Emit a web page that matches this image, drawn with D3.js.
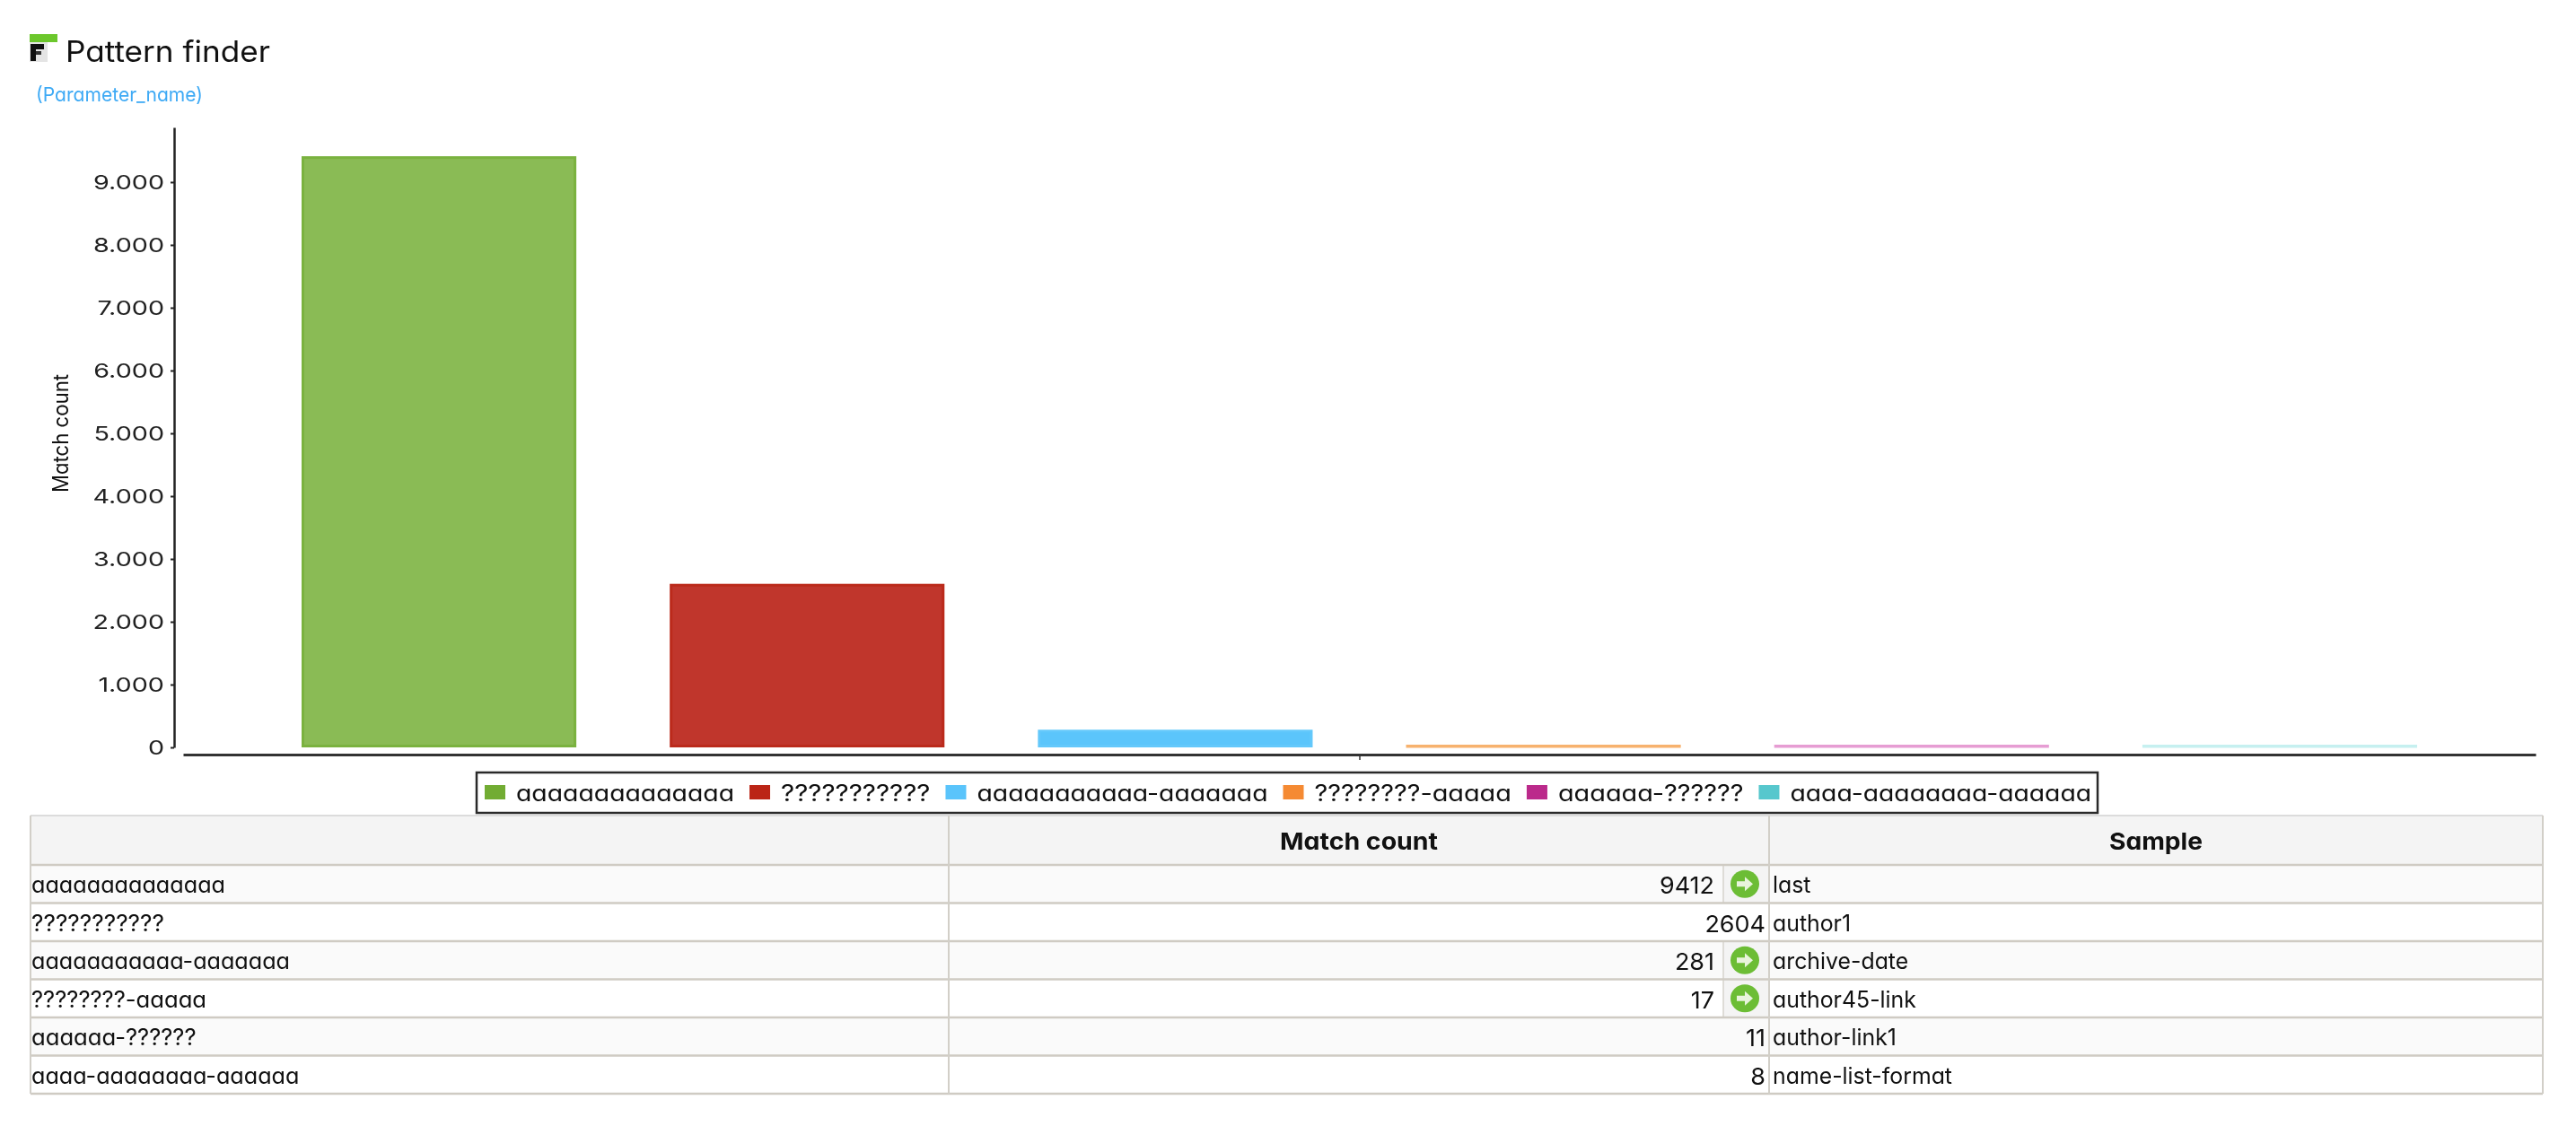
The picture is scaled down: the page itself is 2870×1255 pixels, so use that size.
<!DOCTYPE html>
<html><head><meta charset="utf-8">
<script src="https://cdnjs.cloudflare.com/ajax/libs/d3/7.8.5/d3.min.js"></script>
<style>
html,body{margin:0;padding:0;background:#fff;overflow:hidden}
svg{filter:blur(0.6px)}
text{font-family:Inter,Lato,"Noto Sans",sans-serif;font-feature-settings:"cv11" 1;fill:#111}
</style></head><body><svg id="c" width="2870" height="1255"></svg>
<script>
const categories=["aaaaaaaaaaaaaa","???????????","aaaaaaaaaaa-aaaaaaa","????????-aaaaa","aaaaaa-??????","aaaa-aaaaaaaa-aaaaaa"];
const matchCounts=[9412,2604,281,17,11,8];
const samples=["last","author1","archive-date","author45-link","author-link1","name-list-format"];
const drillable=[true,false,true,true,false,false];
const yTicks=[0,1000,2000,3000,4000,5000,6000,7000,8000,9000];
const tableHeaders=["","Match count","Sample"];
const title="Pattern finder", subtitle="(Parameter_name)", yTitle="Match count";
const barFill=["#8abb55","#c0362c","#5bc5fb","#f7b26e","#e69dd3","#c6f0f0"];
const barStroke=["#7ab23f","#bb2a1b","#63c8fb","#f7b26e","#e69dd3","#c6f0f0"];
const swatch=["#72ac33","#bb2516","#5ac4fb","#f58a33","#bb2a8b","#57c7cd"];

const svg=d3.select("#c");
const fmt=d3.formatLocale({decimal:",",thousands:".",grouping:[3],currency:["","€"]}).format(",d");

function measure(str,size,weight){
  const t=svg.append("text").attr("font-size",size).attr("font-weight",weight||400).text(str);
  const w=t.node().getComputedTextLength();t.remove();return w;
}
function stretch(sel,k){
  sel.each(function(){const w=this.getComputedTextLength();
    d3.select(this).attr("textLength",w*k).attr("lengthAdjust","spacingAndGlyphs");});
  return sel;
}
// pattern strings: the reference font sets 'a', '?' and '-' at these advances
function patternWidth(s,scale){
  let w=0;for(const ch of s)w+=(ch==="a"?15.43:ch==="?"?13.45:10.3);
  return w*scale;
}
function fitPattern(sel,scale){
  sel.each(function(d){d3.select(this).attr("textLength",patternWidth(d,scale)).attr("lengthAdjust","spacingAndGlyphs");});
  return sel;
}

// title block
const icon=svg.append("g");
icon.append("rect").attr("x",33).attr("y",38).attr("width",31).attr("height",9).attr("fill","#6cc72c");
icon.append("rect").attr("x",33).attr("y",47).attr("width",20).attr("height",22).attr("fill","#e4e4e4");
icon.append("rect").attr("x",34).attr("y",49).attr("width",15).attr("height",6).attr("fill","#111");
icon.append("rect").attr("x",34).attr("y",55).attr("width",6).attr("height",13).attr("fill","#111");
icon.append("rect").attr("x",40).attr("y",57).attr("width",6).attr("height",4).attr("fill","#333");
const fsT=33;
stretch(svg.append("text").attr("x",73).attr("y",69).attr("font-size",fsT).text(title),228/measure(title,fsT));
const fsS=22;
stretch(svg.append("text").attr("x",40).attr("y",113).attr("font-size",fsS).style("fill","#3eaaf5").text(subtitle),186/measure(subtitle,fsS));

// scales
const x=d3.scaleBand().domain(categories).range([336,2693]).paddingInner(0.2537).paddingOuter(0);
const y=d3.scaleLinear().domain([0,9871]).range([833,142]);

// bars
svg.append("g").selectAll("rect").data(categories).join("rect")
  .attr("x",d=>x(d)+1.5).attr("width",x.bandwidth()-3)
  .attr("y",(d,i)=>Math.min(y(matchCounts[i])+1.5,831.5))
  .attr("height",(d,i)=>Math.max(y(0)-y(matchCounts[i])-3,0.5))
  .attr("fill",(d,i)=>barFill[i]).attr("stroke",(d,i)=>barStroke[i]).attr("stroke-width",3);

// y axis
const fsA=22;
const gy=svg.append("g").attr("transform","translate(194,0)")
  .call(d3.axisLeft(y).tickValues(yTicks).tickFormat(fmt).tickSize(4).tickSizeOuter(0).tickPadding(7));
gy.selectAll(".domain").attr("stroke","#222").attr("stroke-width",2.5);
gy.selectAll(".tick line").attr("stroke","#222").attr("stroke-width",2);
gy.selectAll("text").attr("font-size",fsA).attr("font-family",null).style("fill","#222").attr("dy","0.36em");
stretch(gy.selectAll("text"),79/measure("9.000",fsA));
const fsY=24;
stretch(svg.append("text").attr("transform","translate(76,483) rotate(-90)").attr("text-anchor","middle").attr("font-size",fsY).text(yTitle),132/measure(yTitle,fsY));

// x axis
const xAxisScale=d3.scaleLinear().domain([0,1]).range([204,2825]);
const gx=svg.append("g").attr("transform","translate(0,841)")
  .call(d3.axisBottom(xAxisScale).tickValues([0.5]).tickFormat("").tickSize(6).tickSizeOuter(0));
gx.selectAll(".domain").attr("stroke","#333").attr("stroke-width",3);
gx.selectAll(".tick line").attr("stroke","#333").attr("stroke-width",1.5);

// legend
const fsL=25, legendScale=1.125;
svg.append("rect").attr("x",531).attr("y",861).attr("width",1806).attr("height",45).attr("fill","#fff").attr("stroke","#2a2a2a").attr("stroke-width",2.5);
let lx=540;
categories.forEach((c,i)=>{
  svg.append("rect").attr("x",lx).attr("y",875).attr("width",23).attr("height",16).attr("fill",swatch[i]);
  const w=patternWidth(c,legendScale);
  svg.append("text").attr("x",lx+35).attr("y",893).attr("font-size",fsL).attr("textLength",w).attr("lengthAdjust","spacingAndGlyphs").text(c);
  lx+=35+w+17;
});

// table
const tL=34,tC1=1057,tC2=1971,tR=2833,tTop=909,tHead=964,tBottom=1219,arrowX=1920;
const rowY=d3.scaleBand().domain(d3.range(categories.length)).range([tHead,tBottom]);
const arrowRows=drillable.map((d,i)=>d?i:-1).filter(i=>i>=0);
const table=svg.append("g");
table.append("rect").attr("x",tL).attr("y",tTop).attr("width",tR-tL).attr("height",tHead-tTop).attr("fill","#f4f4f4");
table.selectAll("rect.row").data(categories).join("rect").attr("class","row")
  .attr("x",tL).attr("width",tR-tL).attr("y",(d,i)=>rowY(i)).attr("height",rowY.bandwidth())
  .attr("fill",(d,i)=>i%2?"#fff":"#fafafa");
table.selectAll("rect.ac").data(arrowRows).join("rect").attr("class","ac")
  .attr("x",arrowX).attr("width",tC2-arrowX).attr("y",i=>rowY(i)).attr("height",rowY.bandwidth()).attr("fill","#f4f4f4");
table.selectAll("line.ac").data(arrowRows).join("line").attr("class","ac")
  .attr("x1",arrowX).attr("x2",arrowX).attr("y1",i=>rowY(i)).attr("y2",i=>rowY(i)+rowY.bandwidth())
  .attr("stroke","#d6d3cc").attr("stroke-width",1.5);
const hl=[tHead].concat(d3.range(categories.length).map(i=>rowY(i)+rowY.bandwidth()));
table.selectAll("line.h").data(hl).join("line").attr("class","h")
  .attr("x1",tL).attr("x2",tR).attr("y1",d=>d).attr("y2",d=>d).attr("stroke","#cfcbc3").attr("stroke-width",2.5);
table.append("line").attr("x1",tL).attr("x2",tR).attr("y1",tTop).attr("y2",tTop).attr("stroke","#dcdcdc").attr("stroke-width",2);
[tL,tC1,tC2,tR].forEach(v=>table.append("line").attr("x1",v).attr("x2",v).attr("y1",tTop).attr("y2",tBottom).attr("stroke","#d2cfc8").attr("stroke-width",2));

const fsH=26;
stretch(table.append("text").attr("x",(tC1+tC2)/2).attr("y",947).attr("text-anchor","middle").attr("font-size",fsH).attr("font-weight",700).text(tableHeaders[1]),176/measure(tableHeaders[1],fsH,700));
stretch(table.append("text").attr("x",(tC2+tR)/2).attr("y",947).attr("text-anchor","middle").attr("font-size",fsH).attr("font-weight",700).text(tableHeaders[2]),104/measure(tableHeaders[2],fsH,700));

const fsC=25;
fitPattern(table.selectAll("text.cat").data(categories).join("text").attr("class","cat")
  .attr("x",tL+1).attr("y",(d,i)=>rowY(i)+31).attr("font-size",fsC).text(d=>d),1);
const fsN=26, kN=61/measure("9412",fsN);
stretch(table.selectAll("text.num").data(matchCounts).join("text").attr("class","num")
  .attr("x",(d,i)=>drillable[i]?1910:1967).attr("y",(d,i)=>rowY(i)+32).attr("text-anchor","end")
  .attr("font-size",fsN).text(d=>d),kN);
const fsP=25, kP=200/measure(samples[5],fsP);
stretch(table.selectAll("text.smp").data(samples).join("text").attr("class","smp")
  .attr("x",1975).attr("y",(d,i)=>rowY(i)+31).attr("font-size",fsP).text(d=>d),kP);

// arrows
const ax=table.selectAll("g.ar").data(arrowRows).join("g").attr("class","ar")
  .attr("transform",i=>`translate(1944,${rowY(i)+rowY.bandwidth()/2})`);
ax.append("ellipse").attr("rx",16).attr("ry",15.5).attr("fill","#6cbd35");
ax.append("path").attr("d","M-9,-3H0V-8L9,0L0,8V3H-9Z").attr("fill","#e8f4dc");
</script></body></html>
